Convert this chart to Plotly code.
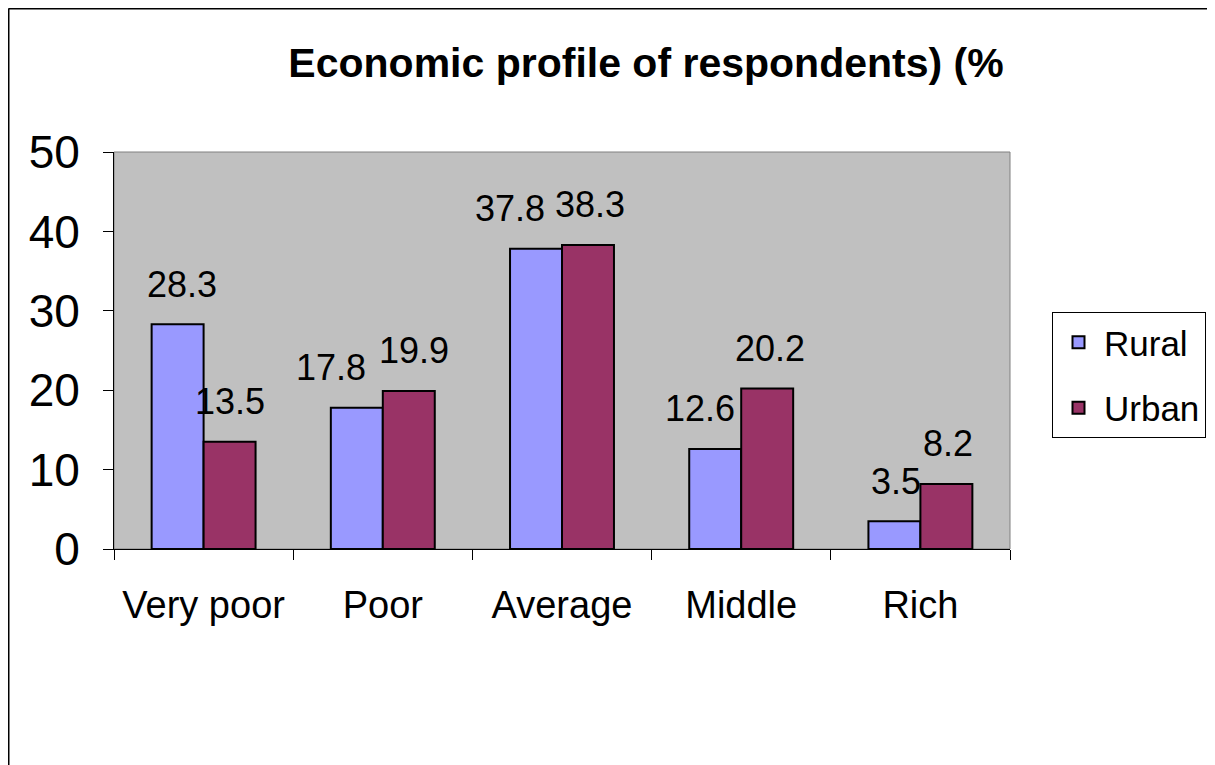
import plotly.graph_objects as go

categories = ["Very poor", "Poor", "Average", "Middle", "Rich"]
rural = [28.3, 17.8, 37.8, 12.6, 3.5]
urban = [13.5, 19.9, 38.3, 20.2, 8.2]
series_names = ["Rural", "Urban"]
y_ticks = [0, 10, 20, 30, 40, 50]
title_text = "Economic profile of respondents) (%"

W, H = 1215, 765
OFF = 8  # page body margin
L, R, T, B = 114 - OFF, 1215 - 1010 + OFF, 152 - OFF, 765 - 549 + OFF
FONT = "Liberation Sans, Arial, sans-serif"

fig = go.Figure()
fig.add_trace(go.Bar(name=series_names[0], x=categories, y=rural,
                     marker=dict(color="#9999ff", line=dict(color="black", width=2)),
                     legendgroup="a"))
fig.add_trace(go.Bar(name=series_names[1], x=categories, y=urban,
                     marker=dict(color="#993366", line=dict(color="black", width=2)),
                     legendgroup="b"))

# data labels
plot_w = W - L - R
plot_h = H - T - B
cat_w = plot_w / len(categories)
bargap = 0.42
bar_w = cat_w * (1 - bargap) / 2
rural_nudge = [4, -26, -26, -15, 2]
urban_nudge = [0, 5, 2, 3, 2]
for i, c in enumerate(categories):
    fig.add_annotation(x=c, y=rural[i], text=f"{rural[i]}", showarrow=False,
                       xshift=-bar_w / 2 + rural_nudge[i], yshift=40,
                       font=dict(size=36, color="black", family=FONT))
    fig.add_annotation(x=c, y=urban[i], text=f"{urban[i]}", showarrow=False,
                       xshift=bar_w / 2 + urban_nudge[i], yshift=40,
                       font=dict(size=36, color="black", family=FONT))

# figure border (top and left)
top_y = 1 + (T - 0.5) / plot_h
left_x = (0.5 - L) / plot_w
fig.add_shape(type="line", xref="paper", yref="paper",
              x0=left_x, x1=(W - L) / plot_w + 0.01, y0=top_y, y1=top_y,
              line=dict(color="black", width=2))
fig.add_shape(type="line", xref="paper", yref="paper",
              x0=left_x, x1=left_x, y0=-B / plot_h - 0.05, y1=top_y,
              line=dict(color="black", width=2))

fig.update_layout(
    width=W, height=H,
    margin=dict(l=L, r=R, t=T, b=B, autoexpand=False),
    paper_bgcolor="white", plot_bgcolor="#c0c0c0",
    barmode="group", bargap=bargap, bargroupgap=0,
    font=dict(family=FONT, color="black"),
    title=dict(text=f"<b>{title_text}</b>", x=(646 - OFF) / W, xanchor="center",
               y=1 - (63 - OFF) / H, yanchor="middle", yref="container",
               font=dict(size=41, family=FONT, color="black")),
    legend=dict(x=(1052 - OFF) / W, y=1 - (312 - OFF) / H, xref="container", yref="container",
                xanchor="left", yanchor="top",
                bordercolor="black", borderwidth=1, bgcolor="white",
                font=dict(size=35, family=FONT), tracegroupgap=17,
                traceorder="grouped", itemwidth=41),
    showlegend=True,
)
fig.update_xaxes(showgrid=False, showline=True, linecolor="black", linewidth=1,
                 ticks="outside", ticklen=10, tickcolor="black", tickson="boundaries",
                 tickfont=dict(size=38, family=FONT), ticklabelstandoff=22,
                 mirror=False)
fig.update_yaxes(range=[0, 50], tickvals=y_ticks, showgrid=False, showline=True,
                 linecolor="black", linewidth=1, ticks="outside", ticklen=10,
                 tickcolor="black", tickfont=dict(size=46, family=FONT),
                 ticklabelstandoff=14, zeroline=False)
# plot area border (gray)
fig.add_shape(type="rect", xref="paper", yref="paper", x0=0, x1=1, y0=0, y1=1,
              line=dict(color="#808080", width=1), layer="below")

fig.write_html("out.html")
